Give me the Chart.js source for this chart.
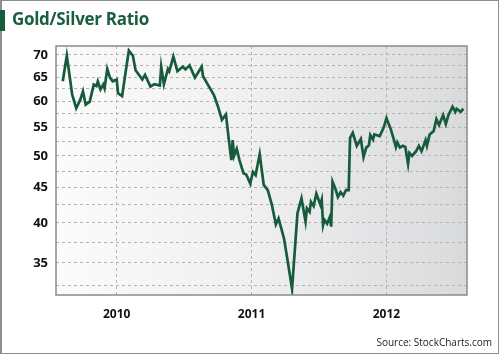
<!DOCTYPE html>
<html>
<head>
<meta charset="utf-8">
<script src="https://cdn.jsdelivr.net/npm/chart.js@4/dist/chart.umd.min.js"></script>
<style>
  html, body { margin: 0; padding: 0; background: #fff; }
  #wrap { position: relative; width: 500px; height: 355px; overflow: hidden; }
  #c { position: absolute; left: 0; top: 0; }
  #frame { position: absolute; left: 0; top: 0; width: 496px; height: 352px; border: 1.5px solid #8e8e8e; border-left-width: 2px; box-sizing: content-box; }
  #bar { position: absolute; left: 0; top: 10px; width: 5px; height: 21px; background: #155c3b; }
  #title { position: absolute; left: 12px; top: 7px; font-family: "Open Sans", sans-serif; font-weight: bold; font-size: 17px; color: #1a5e3f; letter-spacing: -0.3px; }
  #source { position: absolute; right: 8px; top: 335px; font-family: "Open Sans", sans-serif; font-size: 10px; color: #222; }
</style>
</head>
<body>
<div id="wrap">
  <canvas id="c" width="500" height="355"></canvas>
  <div id="frame"></div>
  <div id="bar"></div>
  <div id="title">Gold/Silver Ratio</div>
  <div id="source">Source: StockCharts.com</div>
</div>
<script>
// ---- data ----
const dates = [2009.60, 2009.63, 2009.65, 2009.67, 2009.70, 2009.73, 2009.75, 2009.77, 2009.80, 2009.83,
  2009.85, 2009.86, 2009.88, 2009.90, 2009.91, 2009.93, 2009.95, 2009.97, 2010.00, 2010.01,
  2010.04, 2010.06, 2010.09, 2010.12, 2010.14, 2010.19, 2010.21, 2010.25, 2010.28, 2010.32,
  2010.33, 2010.35, 2010.38, 2010.39, 2010.42, 2010.45, 2010.49, 2010.51, 2010.54, 2010.58,
  2010.63, 2010.64, 2010.68, 2010.72, 2010.75, 2010.78, 2010.81, 2010.83, 2010.85, 2010.86,
  2010.87, 2010.89, 2010.91, 2010.94, 2010.96, 2010.99, 2011.01, 2011.03, 2011.06, 2011.09,
  2011.12, 2011.15, 2011.18, 2011.20, 2011.24, 2011.27, 2011.30, 2011.34, 2011.37, 2011.40,
  2011.41, 2011.43, 2011.44, 2011.46, 2011.48, 2011.51, 2011.52, 2011.53, 2011.54, 2011.56,
  2011.58, 2011.59, 2011.60, 2011.62, 2011.64, 2011.66, 2011.68, 2011.70, 2011.72, 2011.73,
  2011.75, 2011.78, 2011.81, 2011.83, 2011.85, 2011.87, 2011.88, 2011.90, 2011.91, 2011.95,
  2011.98, 2012.00, 2012.01, 2012.03, 2012.05, 2012.07, 2012.08, 2012.10, 2012.12, 2012.14,
  2012.16, 2012.17, 2012.19, 2012.22, 2012.24, 2012.26, 2012.29, 2012.30, 2012.32, 2012.35,
  2012.37, 2012.39, 2012.42, 2012.44, 2012.46, 2012.49, 2012.51, 2012.52, 2012.55, 2012.57];

const ratio = [64.1, 69.8, 65.5, 61.3, 58.6, 60.3, 62.0, 59.3, 59.9, 63.4,
  63.1, 64.1, 62.4, 63.4, 62.6, 66.8, 64.9, 64.1, 64.5, 61.6,
  61.0, 64.9, 71.0, 69.8, 66.5, 64.5, 65.5, 63.0, 63.5, 63.2,
  67.3, 63.5, 66.8, 66.3, 69.6, 66.3, 67.3, 66.7, 67.6, 64.9,
  67.3, 65.2, 63.2, 61.3, 59.0, 56.4, 57.4, 53.0, 49.3, 52.7,
  50.0, 51.2, 49.3, 47.2, 47.0, 45.6, 47.4, 46.9, 50.3, 45.4,
  44.6, 42.5, 39.8, 40.6, 38.0, 35.0, 32.1, 41.3, 43.4, 40.2,
  42.0, 41.5, 42.9, 42.3, 44.1, 42.5, 43.2, 39.7, 40.4, 39.9,
  40.8, 39.5, 45.9, 44.9, 43.6, 44.3, 43.8, 44.6, 44.6, 53.1,
  54.0, 51.7, 52.9, 49.8, 51.4, 51.8, 53.6, 52.8, 53.7, 53.4,
  55.0, 56.7, 56.0, 54.8, 53.2, 51.5, 52.3, 51.4, 51.7, 51.5,
  48.7, 50.5, 50.0, 50.8, 51.7, 50.8, 52.7, 51.7, 53.7, 54.3,
  56.5, 55.4, 57.3, 55.6, 57.3, 58.9, 57.9, 58.5, 57.9, 58.5];

const yearTicks = [2010, 2011, 2012];
const yGridValues = [32.5, 35, 37.5, 40, 42.5, 45, 47.5, 50, 52.5, 55, 57.5, 60, 62.5, 65, 67.5, 70];
const yTickLabels = [35, 40, 45, 50, 55, 60, 65, 70];

const points = dates.map((d, i) => ({ x: d, y: ratio[i] }));

const plotDeco = {
  id: 'plotDeco',
  beforeDraw(chart) {
    const { ctx, chartArea: a } = chart;
    const g = ctx.createLinearGradient(a.left, 0, a.right, 0);
    g.addColorStop(0, '#fbfbfb');
    g.addColorStop(0.5, '#efeff0');
    g.addColorStop(1, '#d9dadc');
    ctx.save();
    ctx.fillStyle = g;
    ctx.fillRect(a.left, a.top, a.right - a.left, a.bottom - a.top);
    ctx.restore();
  },
  afterDraw(chart) {
    const { ctx, chartArea: a } = chart;
    ctx.save();
    ctx.strokeStyle = '#8a8a8a';
    ctx.lineWidth = 1.5;
    ctx.strokeRect(a.left, a.top, a.right - a.left, a.bottom - a.top);
    ctx.restore();
  }
};

new Chart(document.getElementById('c'), {
  type: 'line',
  data: {
    datasets: [{
      data: points,
      borderColor: '#165b3c',
      borderWidth: 2.7,
      pointRadius: 0,
      tension: 0,
      fill: false
    }]
  },
  options: {
    responsive: false,
    animation: false,
    layout: { padding: { left: 0, top: 46, right: 33, bottom: 0 } },
    plugins: { legend: { display: false }, tooltip: { enabled: false } },
    scales: {
      x: {
        type: 'linear',
        min: 2009.55,
        max: 2012.597,
        afterBuildTicks(scale) { scale.ticks = yearTicks.map(v => ({ value: v })); },
        afterFit(scale) { scale.height = 60; },
        ticks: {
          autoSkip: false,
          maxRotation: 0,
          padding: 12,
          color: '#111',
          font: { family: 'Open Sans', weight: 'bold', size: 12 },
          callback: (v) => String(v)
        },
        grid: { color: '#b4b4b4', lineWidth: 1, drawTicks: false },
        border: { display: false, dash: [3, 3] }
      },
      y: {
        type: 'logarithmic',
        min: 31.46,
        max: 72.1,
        afterBuildTicks(scale) { scale.ticks = yGridValues.map(v => ({ value: v })); },
        afterFit(scale) { scale.width = 56; },
        ticks: {
          autoSkip: false,
          padding: 8,
          color: '#111',
          font: { family: 'Open Sans', weight: 'bold', size: 13 },
          callback: (v) => (yTickLabels.includes(v) ? String(v) : '')
        },
        grid: { color: '#b4b4b4', lineWidth: 1, drawTicks: false },
        border: { display: false, dash: [3, 3] }
      }
    }
  },
  plugins: [plotDeco]
});
</script>
</body>
</html>
